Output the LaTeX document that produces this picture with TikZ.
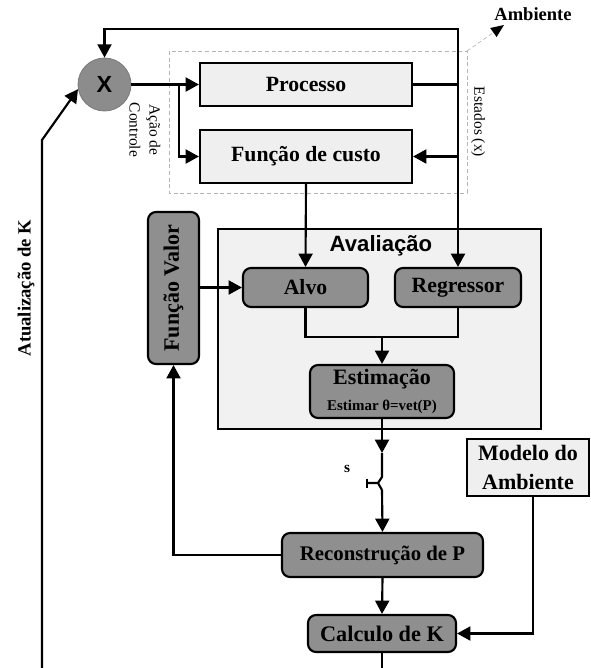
\documentclass[tikz,border=0pt]{standalone}
\usepackage{fontspec}
\setmainfont{Liberation Serif}
\newfontfamily\arialfont{Liberation Sans}
\usetikzlibrary{arrows.meta}
\newcommand\fsz[2]{\fontsize{#1}{#2}\selectfont}
\definecolor{boxlight}{HTML}{EFEFEF}
\definecolor{boxdark}{HTML}{8F8F8F}
\definecolor{avalfill}{HTML}{F1F1F1}
\definecolor{mixfill}{HTML}{8C8C8C}
\definecolor{mixline}{HTML}{7A7A7A}
\definecolor{framegray}{HTML}{B4B4B4}
\begin{document}
\begin{tikzpicture}[x=0.75pt,y=-0.75pt,
  wire/.style={line width=1.6pt},
  arr/.style={wire,-{Triangle[length=10pt,width=10.5pt]}},
  lightbox/.style={draw,line width=1.6pt,fill=boxlight,inner sep=0pt,
    font=\bfseries\fsz{16.3}{19}},
  darkbox/.style={draw,line width=1.6pt,fill=boxdark,rounded corners=6pt,
    inner sep=0pt,font=\bfseries\fsz{16.3}{19}},
  note/.style={inner sep=1pt,font=\fsz{11.6}{15}},
  frameline/.style={framegray,line width=0.5pt,dash pattern=on 3pt off 2pt},
]
\useasboundingbox (0,0) rectangle (590,668);

% evaluation block (background)
\node[draw,line width=1.6pt,fill=avalfill,minimum width=242.25pt,
  minimum height=150pt,inner sep=0pt] (aval) at (379.5,329) {};
\node[inner sep=1pt,font=\arialfont\bfseries\fsz{16.6}{19}] (avaltitle)
  at (381,246) {Avaliação};

% environment frame
\draw[frameline] (169,51) rectangle (467,193);
\coordinate (envcorner) at (467,51);
\node[inner sep=1pt,font=\bfseries\fsz{13.9}{16}] (amb) at (533,14) {Ambiente};

% blocks
\node[circle,fill=mixfill,draw=mixline,line width=0.6pt,minimum size=39.75pt,
  inner sep=0pt,font=\arialfont\bfseries\fsz{17.5}{19}] (mix) at (104.5,84.5) {X};
\node[lightbox,minimum width=159pt,minimum height=32.25pt] (proc)
  at (306,84.5) {Processo};
\node[lightbox,minimum width=159pt,minimum height=39.75pt] (cost)
  at (306,156.5) {Função de custo};
\node[darkbox,minimum width=93.75pt,minimum height=29.25pt] (alvo)
  at (305.5,287.5) {Alvo};
\node[darkbox,minimum width=94.5pt,minimum height=29.25pt] (reg)
  at (458,287.5) {Regressor};
\node[darkbox,minimum width=108pt,minimum height=39.75pt,align=center] (est)
  at (382,391.5) {{\fsz{16.5}{19}Estimação}\\[1pt]{\fsz{11.2}{13}Estimar θ=vet(P)}};
\node[darkbox,minimum width=38.25pt,minimum height=114pt,font=\bfseries\fsz{16.5}{19}] (fv)
  at (173.5,288) {\rotatebox{90}{Função Valor}};
\node[darkbox,minimum width=150.75pt,minimum height=33pt,font=\bfseries\fsz{15.6}{18}] (rec)
  at (382.5,555) {Reconstrução de P};
\node[darkbox,minimum width=111pt,minimum height=27.75pt,font=\bfseries\fsz{16.7}{19}] (calc)
  at (382,633.5) {Calculo de K};
\node[lightbox,minimum width=91.5pt,minimum height=42.75pt,align=center,
  font=\bfseries\fsz{16.5}{21.75}] (mod) at (528,467.5) {Modelo do\\Ambiente};

% side labels
\node[note,rotate=-90,align=center] (acao) at (145,130) {Ação de\\Controle};
\node[note,rotate=-90] (estados) at (478,122) {Estados (x)};
\node[inner sep=1pt,rotate=90,font=\bfseries\fsz{14}{16}] (atual)
  at (26,288) {Atualização de K};
\node[inner sep=1pt,font=\bfseries\fsz{11.5}{13}] (slabel) at (347,469) {s};

% helper points
\coordinate (topline) at (457,29);
\coordinate (split) at (179,84.5);
\coordinate (merge) at (382,337);
\coordinate (sw1) at (382,453);
\coordinate (sw2) at (382,477);
\coordinate (sw3) at (382,490);
\coordinate (bottom) at (382,668);
\coordinate (lbottom) at (42,668);
\coordinate (lknee) at (42,140);
\coordinate (ambtip) at (504,25);
\coordinate (ambbase) at (493.4,32.5);

% control action to process and cost
\draw[arr] (mix.east) -- (proc.west);
\draw[arr] (split) |- (cost.west);

% states loop
\draw[arr] (proc.east) -| (reg.north);
\draw[arr] (reg.north |- proc.east) -- (reg.north |- topline) -| (mix.north);
\draw[arr] (reg.north |- cost.east) -- (cost.east);

% link from the environment frame to its label: dashed stem, solid head
\draw[frameline] (envcorner) -- (ambbase);
\fill[black] (ambtip) -- (496.6,37) -- (490.2,28) -- cycle;

% evaluation
\draw[arr] (cost.south) -- (alvo.north);
\draw[arr] (alvo.west -| fv.east) -- (alvo.west);
\draw[wire] (alvo.south) |- (merge) -| (reg.south);
\draw[arr] (merge) -- (est.north);

% sampling switch
\draw[arr] (est.south) -- (sw1);
\draw[wire] (sw1) -- (sw2) -- (378,483) -- (367,483);
\draw[wire] (367,478.5) -- (367,488);
\draw[wire] (378,483) -- (sw3);
\draw[arr] (sw3) -- (rec.north);

% reconstruction and gain
\draw[arr] (rec.west) -| (fv.south);
\draw[arr] (rec.south) -- (calc.north);
\draw[arr] ([xshift=3.75pt]mod.south) |- (calc.east);
\draw[wire] (calc.south) -- (bottom);

% gain update back to the multiplier
\draw[arr] (lbottom) -- (lknee) -- (mix.190);
\end{tikzpicture}
\end{document}
